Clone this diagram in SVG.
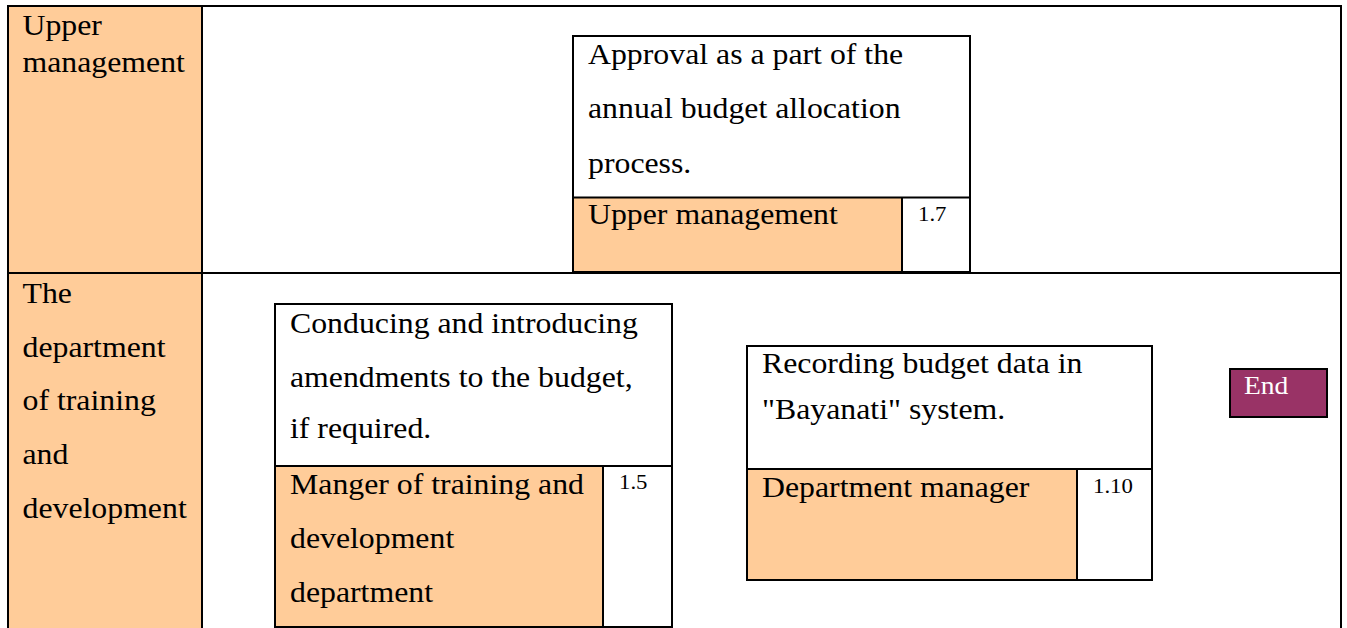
<svg xmlns="http://www.w3.org/2000/svg" width="1347" height="628" viewBox="0 0 1347 628">
<style>
text{font-family:"Liberation Serif","Times New Roman",serif}
.t{font-size:30px;fill:#000}
.n{font-size:21.5px;fill:#000}
.e{font-size:26px;fill:#fff}
.ln{stroke:#000;stroke-width:2;fill:none}
.pe{fill:#FFCC99}
.wh{fill:#fff}
</style>
<rect width="1347" height="628" fill="#fff"/>
<g id="lanes">
<rect class="pe" x="8" y="6" width="194" height="622"/>
<path class="ln" d="M8 628V6H1341V628M202 6V628M8 273H1341"/>
<g id="lane-upper">
<text class="t" transform="translate(22.5 35) scale(1.06 1)">Upper</text>
<text class="t" transform="translate(22.5 72) scale(1.06 1)">management</text>
</g>
<g id="lane-training">
<text class="t" transform="translate(22.5 303) scale(1.06 1)">The</text>
<text class="t" transform="translate(22.5 357) scale(1.06 1)">department</text>
<text class="t" transform="translate(22.5 410) scale(1.06 1)">of training</text>
<text class="t" transform="translate(22.5 464) scale(1.06 1)">and</text>
<text class="t" transform="translate(22.5 518) scale(1.06 1)">development</text>
</g>
</g>
<g id="node-1-7">
<rect class="wh" x="573" y="36" width="397" height="236"/>
<rect class="pe" x="573" y="197.5" width="329" height="74.5"/>
<path class="ln" d="M573 36H970V272H573ZM573 197.5H970M902 197.5V272"/>
<text class="t" transform="translate(588 64) scale(1.06 1)">Approval as a part of the</text>
<text class="t" transform="translate(588 118) scale(1.06 1)">annual budget allocation</text>
<text class="t" transform="translate(588 173) scale(1.06 1)">process.</text>
<text class="t" transform="translate(588 224) scale(1.06 1)">Upper management</text>
<text class="n" transform="translate(918 221) scale(1.06 1)">1.7</text>
</g>
<g id="node-1-5">
<rect class="wh" x="275" y="304" width="397" height="323"/>
<rect class="pe" x="275" y="466" width="328" height="161"/>
<path class="ln" d="M275 304H672V627H275ZM275 466H672M603 466V627"/>
<text class="t" transform="translate(290 333) scale(1.06 1)">Conducing and introducing</text>
<text class="t" transform="translate(290 387) scale(1.06 1)">amendments to the budget,</text>
<text class="t" transform="translate(290 438) scale(1.06 1)">if required.</text>
<text class="t" transform="translate(290 494) scale(1.06 1)">Manger of training and</text>
<text class="t" transform="translate(290 548) scale(1.06 1)">development</text>
<text class="t" transform="translate(290 602) scale(1.06 1)">department</text>
<text class="n" transform="translate(619 489) scale(1.06 1)">1.5</text>
</g>
<g id="node-1-10">
<rect class="wh" x="747" y="346" width="405" height="234"/>
<rect class="pe" x="747" y="469" width="330" height="111"/>
<path class="ln" d="M747 346H1152V580H747ZM747 469H1152M1077 469V580"/>
<text class="t" transform="translate(762 373) scale(1.06 1)">Recording budget data in</text>
<text class="t" transform="translate(762 419) scale(1.06 1)">"Bayanati" system.</text>
<text class="t" transform="translate(762 497) scale(1.06 1)">Department manager</text>
<text class="n" transform="translate(1093 493) scale(1.06 1)">1.10</text>
</g>
<g id="node-end">
<rect x="1230" y="369" width="97" height="48" fill="#993366" stroke="#000" stroke-width="2"/>
<text class="e" transform="translate(1244 394) scale(1.06 1)">End</text>
</g>
<g id="connectors"></g>
</svg>
